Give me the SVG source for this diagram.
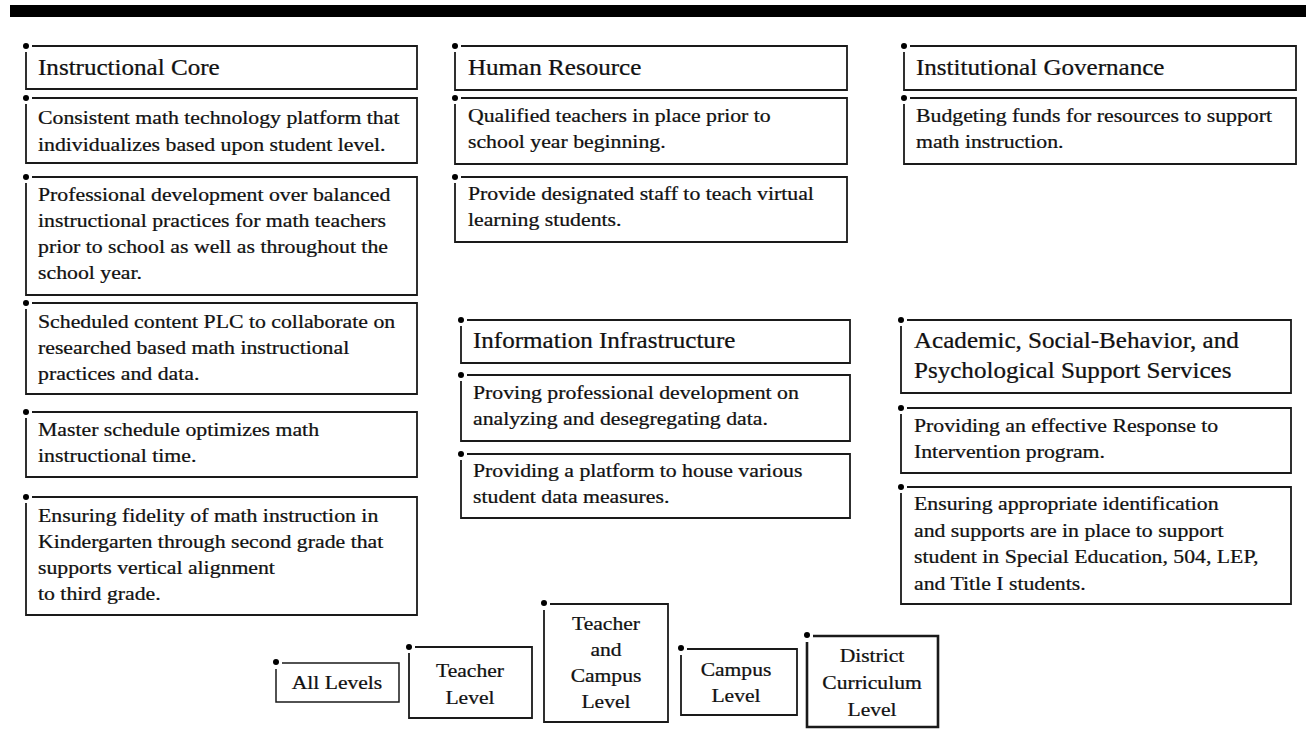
<svg xmlns="http://www.w3.org/2000/svg" width="1306" height="729" viewBox="0 0 1306 729">
  <style>
    .frame { fill: none; stroke: #1a1a1a; stroke-width: 1.8; }
    .dot { fill: #000; }
    text { font-family: "Liberation Serif", "Times New Roman", serif; fill: #111; stroke: #111; stroke-width: 0.25; }
    .title { font-size: 22.8px; }
    .body { font-size: 19.8px; }
    .legend { font-size: 19.6px; text-anchor: middle; }
  </style>

  <!-- heading rule -->
  <rect x="10" y="5" width="1296" height="12" fill="#000"/>

  <!-- Text runs are set slightly wide: each label block sits in a 1.1x horizontal scale,
       so x positions inside those groups are the page x divided by 1.1. -->

  <!-- Column 1: Instructional Core -->
  <g id="instructional-core">
    <path class="frame" d="M32 46H417V89H26V52"/><circle class="dot" cx="26" cy="46" r="3"/>
    <g transform="scale(1.1 1)"><text class="title" x="34.55" y="75">Instructional Core</text></g>
  </g>
  <g id="ic-technology-platform">
    <path class="frame" d="M32 98H417V163H26V104"/><circle class="dot" cx="26" cy="98" r="3"/>
    <g transform="scale(1.1 1)">
      <text class="body" x="34.55" y="124">Consistent math technology platform that</text>
      <text class="body" x="34.55" y="151">individualizes based upon student level.</text>
    </g>
  </g>
  <g id="ic-professional-development">
    <path class="frame" d="M32 177H417V295H26V183"/><circle class="dot" cx="26" cy="177" r="3"/>
    <g transform="scale(1.1 1)">
      <text class="body" x="34.55" y="201">Professional development over balanced</text>
      <text class="body" x="34.55" y="227">instructional practices for math teachers</text>
      <text class="body" x="34.55" y="253">prior to school as well as throughout the</text>
      <text class="body" x="34.55" y="279">school year.</text>
    </g>
  </g>
  <g id="ic-content-plc">
    <path class="frame" d="M32 303H417V394H26V309"/><circle class="dot" cx="26" cy="303" r="3"/>
    <g transform="scale(1.1 1)">
      <text class="body" x="34.55" y="328">Scheduled content PLC to collaborate on</text>
      <text class="body" x="34.55" y="354">researched based math instructional</text>
      <text class="body" x="34.55" y="380">practices and data.</text>
    </g>
  </g>
  <g id="ic-master-schedule">
    <path class="frame" d="M32 412H417V477H26V418"/><circle class="dot" cx="26" cy="412" r="3"/>
    <g transform="scale(1.1 1)">
      <text class="body" x="34.55" y="436">Master schedule optimizes math</text>
      <text class="body" x="34.55" y="462">instructional time.</text>
    </g>
  </g>
  <g id="ic-fidelity">
    <path class="frame" d="M32 497H417V615H26V503"/><circle class="dot" cx="26" cy="497" r="3"/>
    <g transform="scale(1.1 1)">
      <text class="body" x="34.55" y="522">Ensuring fidelity of math instruction in</text>
      <text class="body" x="34.55" y="548">Kindergarten through second grade that</text>
      <text class="body" x="34.55" y="574">supports vertical alignment</text>
      <text class="body" x="34.55" y="600">to third grade.</text>
    </g>
  </g>

  <!-- Column 2: Human Resource -->
  <g id="human-resource">
    <path class="frame" d="M461 46H847V90H455V52"/><circle class="dot" cx="455" cy="46" r="3"/>
    <g transform="scale(1.1 1)"><text class="title" x="425.45" y="75">Human Resource</text></g>
  </g>
  <g id="hr-qualified-teachers">
    <path class="frame" d="M461 98H847V164H455V104"/><circle class="dot" cx="455" cy="98" r="3"/>
    <g transform="scale(1.1 1)">
      <text class="body" x="425.45" y="122">Qualified teachers in place prior to</text>
      <text class="body" x="425.45" y="148">school year beginning.</text>
    </g>
  </g>
  <g id="hr-virtual-staff">
    <path class="frame" d="M461 177H847V242H455V183"/><circle class="dot" cx="455" cy="177" r="3"/>
    <g transform="scale(1.1 1)">
      <text class="body" x="425.45" y="200">Provide designated staff to teach virtual</text>
      <text class="body" x="425.45" y="226">learning students.</text>
    </g>
  </g>

  <!-- Column 2: Information Infrastructure -->
  <g id="information-infrastructure">
    <path class="frame" d="M467 320H850V363H461V326"/><circle class="dot" cx="461" cy="320" r="3"/>
    <g transform="scale(1.1 1)"><text class="title" x="430" y="348">Information Infrastructure</text></g>
  </g>
  <g id="ii-data-pd">
    <path class="frame" d="M467 375H850V441H461V381"/><circle class="dot" cx="461" cy="375" r="3"/>
    <g transform="scale(1.1 1)">
      <text class="body" x="430" y="399">Proving professional development on</text>
      <text class="body" x="430" y="425">analyzing and desegregating data.</text>
    </g>
  </g>
  <g id="ii-data-platform">
    <path class="frame" d="M467 454H850V518H461V460"/><circle class="dot" cx="461" cy="454" r="3"/>
    <g transform="scale(1.1 1)">
      <text class="body" x="430" y="477">Providing a platform to house various</text>
      <text class="body" x="430" y="503">student data measures.</text>
    </g>
  </g>

  <!-- Column 3: Institutional Governance -->
  <g id="institutional-governance">
    <path class="frame" d="M910 46H1296V90H904V52"/><circle class="dot" cx="904" cy="46" r="3"/>
    <g transform="scale(1.1 1)"><text class="title" x="832.73" y="75">Institutional Governance</text></g>
  </g>
  <g id="ig-budgeting">
    <path class="frame" d="M910 98H1296V164H904V104"/><circle class="dot" cx="904" cy="98" r="3"/>
    <g transform="scale(1.1 1)">
      <text class="body" x="832.73" y="122">Budgeting funds for resources to support</text>
      <text class="body" x="832.73" y="148">math instruction.</text>
    </g>
  </g>

  <!-- Column 3: Academic, Social-Behavior, and Psychological Support Services -->
  <g id="support-services">
    <path class="frame" d="M907 320H1291V393H901V326"/><circle class="dot" cx="901" cy="320" r="3"/>
    <g transform="scale(1.1 1)">
      <text class="title" x="830.91" y="348">Academic, Social-Behavior, and</text>
      <text class="title" x="830.91" y="378">Psychological Support Services</text>
    </g>
  </g>
  <g id="ss-response-to-intervention">
    <path class="frame" d="M907 408H1291V473H901V414"/><circle class="dot" cx="901" cy="408" r="3"/>
    <g transform="scale(1.1 1)">
      <text class="body" x="830.91" y="432">Providing an effective Response to</text>
      <text class="body" x="830.91" y="458">Intervention program.</text>
    </g>
  </g>
  <g id="ss-identification">
    <path class="frame" d="M907 487H1291V604H901V493"/><circle class="dot" cx="901" cy="487" r="3"/>
    <g transform="scale(1.1 1)">
      <text class="body" x="830.91" y="510">Ensuring appropriate identification</text>
      <text class="body" x="830.91" y="537">and supports are in place to support</text>
      <text class="body" x="830.91" y="563">student in Special Education, 504, LEP,</text>
      <text class="body" x="830.91" y="590">and Title I students.</text>
    </g>
  </g>

  <!-- Legend: level of responsibility -->
  <g id="legend-all-levels">
    <path class="frame" style="stroke-width:1.5" d="M282 663H399V702H276V669"/><circle class="dot" cx="276" cy="662" r="3"/>
    <g transform="scale(1.1 1)"><text class="legend" x="306.36" y="689">All Levels</text></g>
  </g>
  <g id="legend-teacher">
    <path class="frame" d="M415 647H532V718H409V653"/><circle class="dot" cx="409" cy="647" r="3"/>
    <g transform="scale(1.1 1)">
      <text class="legend" x="427.27" y="677">Teacher</text>
      <text class="legend" x="427.27" y="704">Level</text>
    </g>
  </g>
  <g id="legend-teacher-campus">
    <path class="frame" d="M550 604H668V722H544V610"/><circle class="dot" cx="544" cy="603" r="3"/>
    <g transform="scale(1.1 1)">
      <text class="legend" x="550.91" y="630">Teacher</text>
      <text class="legend" x="550.91" y="656">and</text>
      <text class="legend" x="550.91" y="682">Campus</text>
      <text class="legend" x="550.91" y="708">Level</text>
    </g>
  </g>
  <g id="legend-campus">
    <path class="frame" d="M687 649H797V715H681V655"/><circle class="dot" cx="681" cy="648" r="3"/>
    <g transform="scale(1.1 1)">
      <text class="legend" x="669.09" y="676">Campus</text>
      <text class="legend" x="669.09" y="702">Level</text>
    </g>
  </g>
  <g id="legend-district">
    <path class="frame" style="stroke-width:2.6" d="M813 636H938V727H807V642"/><circle class="dot" cx="807" cy="635" r="3"/>
    <g transform="scale(1.1 1)">
      <text class="legend" x="792.73" y="662">District</text>
      <text class="legend" x="792.73" y="689">Curriculum</text>
      <text class="legend" x="792.73" y="716">Level</text>
    </g>
  </g>
</svg>
